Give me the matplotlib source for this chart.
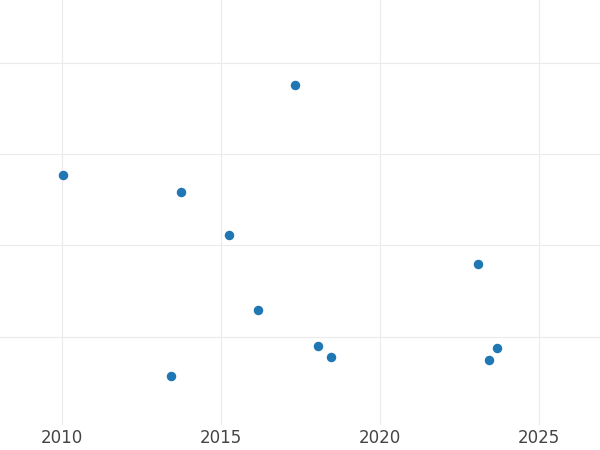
import matplotlib
matplotlib.use("Agg")
import matplotlib.pyplot as plt

years = [2010.03, 2013.74, 2015.25, 2017.33, 2016.16, 2018.05, 2018.46, 2013.43, 2023.08, 2023.43, 2023.68]
values = [2.77, 2.59, 2.12, 3.76, 1.29, 0.90, 0.78, 0.57, 1.80, 0.75, 0.88]
xticks = [2010, 2015, 2020, 2025]

fig = plt.figure(figsize=(6, 4.5), dpi=100)
ax = fig.add_axes([0, 0.055, 1, 0.945])
ax.scatter(years, values, s=34, color="#1f77b4", zorder=3)
ax.set_xlim(2008.05, 2026.92)
ax.set_ylim(0.03, 4.69)
ax.set_xticks(xticks)
ax.set_yticks([1, 2, 3, 4])
ax.set_yticklabels([])
ax.grid(True, color="#ebebeb", linewidth=0.8)
for s in ax.spines.values():
    s.set_visible(False)
ax.tick_params(length=0, labelsize=12, labelcolor="#444444", pad=3)
fig.savefig("out.png")
